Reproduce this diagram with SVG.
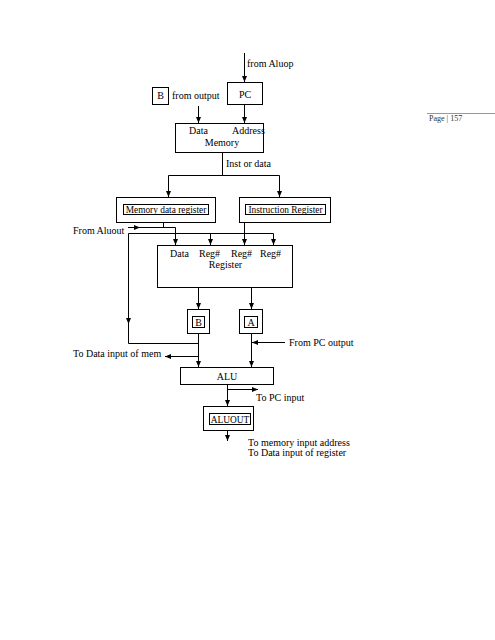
<svg xmlns="http://www.w3.org/2000/svg" width="495" height="640" viewBox="0 0 495 640">
<style>
.b{fill:#fff;stroke:#000;stroke-width:1}
.c{fill:none;stroke:#000;stroke-width:1}
text{font-family:"Liberation Serif","Times New Roman",serif;font-size:10px;fill:#000}
.m{text-anchor:middle}
.s{font-size:9.4px}
</style>
<defs>
<marker id="ar" viewBox="0 0 6 6" refX="6" refY="3" markerWidth="6" markerHeight="6" markerUnits="userSpaceOnUse" orient="auto">
<path d="M0,0.5 L6,3 L0,5.5 Z" fill="#000"/>
</marker>
</defs>
<rect width="495" height="640" fill="#fff"/>
<g id="page">
<line x1="427" y1="113.5" x2="495" y2="113.5" stroke="#999" stroke-width="1"/>
<text x="429" y="121" style="font-size:8px;fill:#333">Page | 157</text>
</g>
<g id="connectors">
<path class="c" d="M244.5,53 V82" marker-end="url(#ar)"/>
<path class="c" d="M198.5,106 V123" marker-end="url(#ar)"/>
<path class="c" d="M244.5,104 V123" marker-end="url(#ar)"/>
<path class="c" d="M222.5,152 V175.5 M168.5,175.5 H279.5"/>
<path class="c" d="M168.5,175.5 V197" marker-end="url(#ar)"/>
<path class="c" d="M279.5,175.5 V197" marker-end="url(#ar)"/>
<path class="c" d="M163.5,222 V227.5"/>
<path class="c" d="M128,227.5 H140" marker-end="url(#ar)"/>
<path class="c" d="M140,227.5 H175.5 V245" marker-end="url(#ar)"/>
<path class="c" d="M273.5,233.5 H128.5 V324" marker-end="url(#ar)"/>
<path class="c" d="M273.5,233.5 V245" marker-end="url(#ar)"/>
<path class="c" d="M210.5,233.5 V245" marker-end="url(#ar)"/>
<path class="c" d="M128.5,323 V343.5 H198.5"/>
<path class="c" d="M244.5,222 V245" marker-end="url(#ar)"/>
<path class="c" d="M198.5,287 V309" marker-end="url(#ar)"/>
<path class="c" d="M251.5,287 V309" marker-end="url(#ar)"/>
<path class="c" d="M198.5,333 V367" marker-end="url(#ar)"/>
<path class="c" d="M198.5,356.5 H165" marker-end="url(#ar)"/>
<path class="c" d="M251.5,333 V367" marker-end="url(#ar)"/>
<path class="c" d="M285,342.5 H252" marker-end="url(#ar)"/>
<path class="c" d="M227.5,384 V406" marker-end="url(#ar)"/>
<path class="c" d="M227.5,389.5 H258" marker-end="url(#ar)"/>
<path class="c" d="M227.5,430 V441" marker-end="url(#ar)"/>
</g>
<g id="labels">
<text x="247" y="67">from Aluop</text>
<text x="172" y="99">from output</text>
<text x="226" y="167">Inst or data</text>
<text x="73" y="234">From Aluout</text>
<text x="73" y="357">To Data input of mem</text>
<text x="289" y="346">From PC output</text>
<text x="256" y="401">To PC input</text>
<text x="248" y="446">To memory input address</text>
<text x="248" y="456">To Data input of register</text>
</g>
<g id="node-b-top">
<rect class="b" x="152.5" y="87.5" width="16" height="17"/>
<text class="m" x="160.5" y="99">B</text>
</g>
<g id="node-pc">
<rect class="b" x="227.5" y="82.5" width="35" height="22"/>
<text class="m" x="245" y="98">PC</text>
</g>
<g id="node-memory">
<rect class="b" x="175.5" y="123.5" width="88" height="29"/>
<text x="189" y="134">Data</text>
<text x="232" y="134">Address</text>
<text class="m" x="222" y="146">Memory</text>
</g>
<g id="node-mdr">
<rect class="b" x="116.5" y="197.5" width="99" height="25"/>
<rect class="b" x="123.5" y="204.5" width="85" height="10"/>
<text class="m s" x="166" y="212.5">Memory data register</text>
</g>
<g id="node-ir">
<rect class="b" x="239.5" y="197.5" width="91" height="25"/>
<rect class="b" x="245.5" y="204.5" width="80" height="10"/>
<text class="m s" x="285.5" y="212.5">Instruction Register</text>
</g>
<g id="node-register">
<rect class="b" x="157.5" y="245.5" width="135" height="42"/>
<text x="170" y="257">Data</text>
<text x="199" y="257">Reg#</text>
<text x="231" y="257">Reg#</text>
<text x="260" y="257">Reg#</text>
<text class="m" x="225.5" y="268">Register</text>
</g>
<g id="node-b">
<rect class="b" x="187.5" y="309.5" width="22" height="24"/>
<rect class="b" x="192.5" y="316.5" width="12" height="11"/>
<text class="m" x="198.5" y="325.5">B</text>
</g>
<g id="node-a">
<rect class="b" x="239.5" y="309.5" width="23" height="24"/>
<rect class="b" x="244.5" y="316.5" width="13" height="11"/>
<text class="m" x="251" y="325.5">A</text>
</g>
<g id="node-alu">
<rect class="b" x="180.5" y="367.5" width="93" height="17"/>
<text class="m" x="227" y="380">ALU</text>
</g>
<g id="node-aluout">
<rect class="b" x="203.5" y="406.5" width="50" height="24"/>
<rect class="b" x="209.5" y="413.5" width="41" height="11"/>
<text class="m s" x="230" y="422.5">ALUOUT</text>
</g>
</svg>
